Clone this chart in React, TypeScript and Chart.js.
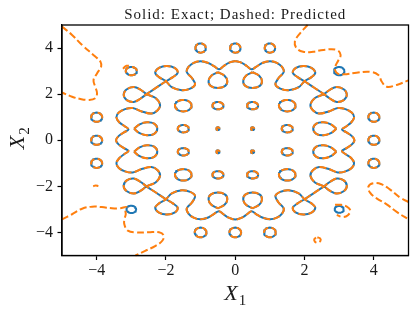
import React, { useEffect, useRef } from 'react';
import { Chart, registerables } from 'chart.js';

Chart.register(...registerables);

const BLUE = '#1f77b4';
const ORANGE = '#ff7f0e';

const xTicks = [-4, -2, 0, 2, 4];
const yTicks = [-4, -2, 0, 2, 4];

// Wavy level-set ring (exact and predicted coincide), traced clockwise by quadrant
const ringNE: [number, number][] = [
  [0.0, 3.44], [0.19, 3.36], [0.35, 3.2], [0.47, 3.08], [0.6, 3.18], [0.78, 3.35], [1.0, 3.43], [1.2, 3.36],
  [1.35, 3.18], [1.4, 2.96], [1.25, 2.7], [1.16, 2.42], [1.3, 2.24], [1.54, 2.17], [1.83, 2.3], [2.0, 2.56],
  [2.2, 2.74], [2.31, 2.93], [2.2, 3.14], [1.97, 3.22], [1.74, 3.13], [1.66, 2.93], [1.8, 2.74], [2.0, 2.56],
  [2.27, 2.29], [2.56, 2.0], [2.74, 1.8], [2.93, 1.66], [3.13, 1.74], [3.22, 1.97], [3.14, 2.2], [2.93, 2.31],
  [2.74, 2.2], [2.56, 2.0], [2.3, 1.83], [2.17, 1.54], [2.24, 1.3], [2.42, 1.16], [2.7, 1.25], [2.96, 1.4],
  [3.18, 1.35], [3.36, 1.2], [3.43, 1.0], [3.35, 0.78], [3.2, 0.6], [3.08, 0.47], [3.2, 0.35], [3.36, 0.19], [3.44, 0.0],
];
const ringSE: [number, number][] = [
  [3.44, 0.0], [3.36, -0.19], [3.2, -0.35], [3.08, -0.47], [3.18, -0.6], [3.35, -0.78], [3.43, -1.0], [3.36, -1.2],
  [3.18, -1.35], [2.96, -1.4], [2.7, -1.25], [2.42, -1.16], [2.24, -1.3], [2.17, -1.54], [2.3, -1.83], [2.56, -2.0],
  [2.74, -2.2], [2.93, -2.31], [3.14, -2.2], [3.22, -1.97], [3.13, -1.74], [2.93, -1.66], [2.74, -1.8], [2.56, -2.0],
  [2.29, -2.27], [2.0, -2.56], [1.8, -2.74], [1.66, -2.93], [1.74, -3.13], [1.97, -3.22], [2.2, -3.14], [2.31, -2.93],
  [2.2, -2.74], [2.0, -2.56], [1.83, -2.3], [1.54, -2.17], [1.3, -2.24], [1.16, -2.42], [1.25, -2.7], [1.4, -2.96],
  [1.35, -3.18], [1.2, -3.36], [1.0, -3.43], [0.78, -3.35], [0.6, -3.2], [0.47, -3.08], [0.35, -3.2], [0.19, -3.36], [0.0, -3.44],
];
const ringSW: [number, number][] = [
  [0.0, -3.44], [-0.19, -3.36], [-0.35, -3.2], [-0.47, -3.08], [-0.6, -3.18], [-0.78, -3.35], [-1.0, -3.43], [-1.2, -3.36],
  [-1.35, -3.18], [-1.4, -2.96], [-1.25, -2.7], [-1.16, -2.42], [-1.3, -2.24], [-1.54, -2.17], [-1.83, -2.3], [-2.0, -2.56],
  [-2.2, -2.74], [-2.31, -2.93], [-2.2, -3.14], [-1.97, -3.22], [-1.74, -3.13], [-1.66, -2.93], [-1.8, -2.74], [-2.0, -2.56],
  [-2.27, -2.29], [-2.56, -2.0], [-2.74, -1.8], [-2.93, -1.66], [-3.13, -1.74], [-3.22, -1.97], [-3.14, -2.2], [-2.93, -2.31],
  [-2.74, -2.2], [-2.56, -2.0], [-2.3, -1.83], [-2.17, -1.54], [-2.24, -1.3], [-2.42, -1.16], [-2.7, -1.25], [-2.96, -1.4],
  [-3.18, -1.35], [-3.36, -1.2], [-3.43, -1.0], [-3.35, -0.78], [-3.2, -0.6], [-3.08, -0.47], [-3.2, -0.35], [-3.36, -0.19], [-3.44, 0.0],
];
const ringNW: [number, number][] = [
  [-3.44, 0.0], [-3.36, 0.19], [-3.2, 0.35], [-3.08, 0.47], [-3.18, 0.6], [-3.35, 0.78], [-3.43, 1.0], [-3.36, 1.2],
  [-3.18, 1.35], [-2.96, 1.4], [-2.7, 1.25], [-2.42, 1.16], [-2.24, 1.3], [-2.17, 1.54], [-2.3, 1.83], [-2.56, 2.0],
  [-2.74, 2.2], [-2.93, 2.31], [-3.14, 2.2], [-3.22, 1.97], [-3.13, 1.74], [-2.93, 1.66], [-2.74, 1.8], [-2.56, 2.0],
  [-2.29, 2.27], [-2.0, 2.56], [-1.8, 2.74], [-1.66, 2.93], [-1.74, 3.13], [-1.97, 3.22], [-2.2, 3.14], [-2.31, 2.93],
  [-2.2, 2.74], [-2.0, 2.56], [-1.83, 2.3], [-1.54, 2.17], [-1.3, 2.24], [-1.16, 2.42], [-1.25, 2.7], [-1.4, 2.96],
  [-1.35, 3.18], [-1.2, 3.36], [-1.0, 3.43], [-0.78, 3.35], [-0.6, 3.2], [-0.47, 3.08], [-0.35, 3.2], [-0.19, 3.36], [0.0, 3.44],
];

// Teardrop-shaped islands next to the ring (traced from the tip round and back)
const dropE1: [number, number][] = [[2.92, 0.5], [2.76, 0.69], [2.55, 0.78], [2.34, 0.72], [2.25, 0.5], [2.34, 0.28], [2.55, 0.22], [2.76, 0.31], [2.92, 0.5]];
const dropE2: [number, number][] = [[2.92, -0.5], [2.76, -0.31], [2.55, -0.22], [2.34, -0.28], [2.25, -0.5], [2.34, -0.72], [2.55, -0.78], [2.76, -0.69], [2.92, -0.5]];
const dropW1: [number, number][] = [[-2.92, 0.5], [-2.76, 0.69], [-2.55, 0.78], [-2.34, 0.72], [-2.25, 0.5], [-2.34, 0.28], [-2.55, 0.22], [-2.76, 0.31], [-2.92, 0.5]];
const dropW2: [number, number][] = [[-2.92, -0.5], [-2.76, -0.31], [-2.55, -0.22], [-2.34, -0.28], [-2.25, -0.5], [-2.34, -0.72], [-2.55, -0.78], [-2.76, -0.69], [-2.92, -0.5]];
const dropN1: [number, number][] = [[0.5, 2.95], [0.69, 2.8], [0.77, 2.57], [0.71, 2.36], [0.5, 2.27], [0.29, 2.36], [0.23, 2.57], [0.31, 2.8], [0.5, 2.95]];
const dropN2: [number, number][] = [[-0.5, 2.95], [-0.31, 2.8], [-0.23, 2.57], [-0.29, 2.36], [-0.5, 2.27], [-0.71, 2.36], [-0.77, 2.57], [-0.69, 2.8], [-0.5, 2.95]];
const dropS1: [number, number][] = [[0.5, -2.95], [0.69, -2.8], [0.77, -2.57], [0.71, -2.36], [0.5, -2.27], [0.29, -2.36], [0.23, -2.57], [0.31, -2.8], [0.5, -2.95]];
const dropS2: [number, number][] = [[-0.5, -2.95], [-0.31, -2.8], [-0.23, -2.57], [-0.29, -2.36], [-0.5, -2.27], [-0.71, -2.36], [-0.77, -2.57], [-0.69, -2.8], [-0.5, -2.95]];

// Closed contour islands: centre, half-width, half-height, and whether the prediction also draws it
const islandX = [-0.5, 0.5, -0.5, 0.5, -1.5, 1.5, -1.5, 1.5, -0.5, 0.5, -0.5, 0.5, -1.5, 1.5, -1.5, 1.5,
  -1, 0, 1, -1, 0, 1, -4, -4, -4, 4, 4, 4, -3, 3, -3, 3];
const islandY = [0.5, 0.5, -0.5, -0.5, 0.5, 0.5, -0.5, -0.5, 1.5, 1.5, -1.5, -1.5, 1.5, 1.5, -1.5, -1.5,
  4, 4, 4, -4, -4, -4, 1, 0, -1, 1, 0, -1, 3, 3, -3, -3];
const islandRx = [0.045, 0.045, 0.045, 0.045, 0.16, 0.16, 0.16, 0.16, 0.16, 0.16, 0.16, 0.16, 0.24, 0.24, 0.24, 0.24,
  0.15, 0.15, 0.15, 0.17, 0.17, 0.17, 0.16, 0.16, 0.16, 0.16, 0.16, 0.16, 0.16, 0.15, 0.14, 0.13];
const islandRy = [0.06, 0.06, 0.06, 0.06, 0.16, 0.16, 0.16, 0.16, 0.16, 0.16, 0.16, 0.16, 0.25, 0.25, 0.25, 0.25,
  0.2, 0.2, 0.2, 0.21, 0.21, 0.21, 0.2, 0.2, 0.2, 0.2, 0.2, 0.2, 0.18, 0.18, 0.16, 0.15];
const islandPredicted = [true, true, true, true, true, true, true, true, true, true, true, true, true, true, true, true,
  true, true, true, true, true, true, true, true, true, true, true, true, true, false, false, false];

// Predicted-only (dashed) contour pieces
const predTopLeft: [number, number][] = [
  [-5, 4.93], [-4.71, 4.57], [-4.42, 4.13], [-4.04, 3.63], [-3.89, 3.41], [-3.87, 3.19], [-3.99, 2.9], [-4.09, 2.61],
  [-4.04, 2.32], [-3.99, 2.04], [-4.04, 1.82], [-4.23, 1.75], [-4.47, 1.79], [-4.71, 1.89], [-5, 2.07],
];
const predTopRight: [number, number][] = [
  [2.09, 5.0], [1.87, 4.64], [1.72, 4.28], [1.77, 3.99], [1.96, 3.84], [2.25, 3.84], [2.54, 3.92], [2.93, 3.92],
  [3.04, 3.7], [2.97, 3.45], [2.9, 3.25], [2.88, 3.05], [2.97, 2.88], [3.13, 2.86], [3.5, 2.93], [3.89, 2.97],
  [4.13, 2.83], [4.23, 2.54], [4.37, 2.32], [4.66, 2.4], [5.0, 2.6],
];
const predBottomLeft: [number, number][] = [
  [-5, -3.43], [-4.71, -3.21], [-4.42, -2.97], [-4.13, -2.88], [-3.85, -2.9], [-3.56, -2.95], [-3.32, -2.95],
  [-3.14, -2.9], [-3.17, -3.05], [-3.16, -3.22], [-3.2, -3.42], [-3.2, -3.65], [-3.1, -3.92], [-2.85, -4.0],
  [-2.5, -3.99], [-2.2, -3.99], [-2.07, -4.12], [-2.1, -4.35], [-2.3, -4.58], [-2.6, -4.8], [-2.88, -5.0],
];
const predBottomRight: [number, number][] = [
  [5.0, -2.68], [4.76, -2.49], [4.46, -2.13], [4.22, -1.91], [3.98, -1.87], [3.84, -2.02], [3.89, -2.27],
  [4.08, -2.52], [4.37, -2.78], [4.66, -3.11], [5.0, -3.43],
];
const predArcSE: [number, number][] = [
  [2.88, -2.8], [3.05, -2.8], [3.22, -2.88], [3.32, -3.05], [3.25, -3.25], [3.1, -3.33], [2.93, -3.24],
];
const predArcNW: [number, number][] = [[-3.24, 3.1], [-3.14, 3.23], [-2.98, 3.2]];
const predSpeck: [number, number][] = [[-4.1, -2.0], [-4.03, -1.96], [-3.95, -1.99]];
const predSpeckLoop: [number, number][] = [
  [2.37, -4.21], [2.45, -4.26], [2.46, -4.36], [2.38, -4.45], [2.3, -4.4], [2.28, -4.3], [2.33, -4.22],
];

const toPts = (arr: [number, number][]) => arr.map(([x, y]) => ({ x, y }));

function ellipsePts(cx: number, cy: number, rx: number, ry: number) {
  const pts: { x: number; y: number }[] = [];
  const n = 36;
  for (let i = 0; i <= n; i++) {
    const t = (i / n) * Math.PI * 2;
    pts.push({ x: cx + rx * Math.cos(t), y: cy + ry * Math.sin(t) });
  }
  return pts;
}

const SERIF = '"Liberation Serif", "DejaVu Serif", serif';

const decor = {
  id: 'decor',
  afterDraw(chart: any) {
    const { ctx, chartArea: a } = chart;
    ctx.save();
    ctx.strokeStyle = '#000';
    ctx.lineWidth = 1.3;
    ctx.setLineDash([]);
    ctx.strokeRect(a.left, a.top, a.right - a.left, a.bottom - a.top);
    ctx.fillStyle = '#1a1a1a';
    const cx = (a.left + a.right) / 2;
    // title
    ctx.font = `15px ${SERIF}`;
    ctx.textAlign = 'center';
    ctx.textBaseline = 'alphabetic';
    try { (ctx as any).letterSpacing = '1px'; } catch (e) { /* ignore */ }
    ctx.fillText('Solid: Exact; Dashed: Predicted', cx, 18.5);
    try { (ctx as any).letterSpacing = '0px'; } catch (e) { /* ignore */ }
    // x label
    ctx.font = `italic 22px ${SERIF}`;
    const wX = ctx.measureText('X').width;
    ctx.font = `15px ${SERIF}`;
    const w1 = ctx.measureText('1').width;
    const start = cx - (wX + w1 + 1) / 2;
    ctx.textAlign = 'left';
    ctx.font = `italic 22px ${SERIF}`;
    ctx.fillText('X', start, 300);
    ctx.font = `15px ${SERIF}`;
    ctx.fillText('1', start + wX + 1, 305);
    // y label
    ctx.translate(23.5, (a.top + a.bottom) / 2);
    ctx.rotate(-Math.PI / 2);
    ctx.font = `italic 22px ${SERIF}`;
    const wY = ctx.measureText('X').width;
    ctx.font = `15px ${SERIF}`;
    const w2 = ctx.measureText('2').width;
    const s2 = -(wY + w2 + 1) / 2 + 2;
    ctx.font = `italic 22px ${SERIF}`;
    ctx.fillText('X', s2, 0);
    ctx.font = `15px ${SERIF}`;
    ctx.fillText('2', s2 + wY + 1, 5);
    ctx.restore();
  },
};

const fmt = (v: number) => (v < 0 ? '\u2212' + Math.abs(v) : String(v));

export default function App() {
  const ref = useRef<HTMLCanvasElement | null>(null);
  useEffect(() => {
    if (!ref.current) return;
    const ring = [...ringNE, ...ringSE.slice(1), ...ringSW.slice(1), ...ringNW.slice(1)];
    const drops = [dropE1, dropE2, dropW1, dropW2, dropN1, dropN2, dropS1, dropS2];
    const dash = [7, 3.2];
    const base = {
      showLine: true, pointRadius: 0, borderWidth: 2, fill: false, clip: 2,
      borderJoinStyle: 'round', borderCapStyle: 'butt',
    } as any;
    const exact: any[] = [];
    const pred: any[] = [];
    exact.push({ ...base, data: toPts(ring), borderColor: BLUE, tension: 0.35 });
    pred.push({ ...base, data: toPts(ring), borderColor: ORANGE, borderDash: dash, tension: 0.35 });
    for (const d of drops) {
      exact.push({ ...base, data: toPts(d), borderColor: BLUE, tension: 0.4 });
      pred.push({ ...base, data: toPts(d), borderColor: ORANGE, borderDash: dash, tension: 0.4 });
    }
    for (let i = 0; i < islandX.length; i++) {
      const pts = ellipsePts(islandX[i], islandY[i], islandRx[i], islandRy[i]);
      exact.push({ ...base, data: pts, borderColor: BLUE, tension: 0 });
      if (islandPredicted[i]) pred.push({ ...base, data: pts, borderColor: ORANGE, borderDash: dash, tension: 0 });
    }
    for (const c of [predTopLeft, predTopRight, predBottomLeft, predBottomRight, predArcSE, predArcNW, predSpeck, predSpeckLoop]) {
      pred.push({ ...base, data: toPts(c), borderColor: ORANGE, borderDash: dash, tension: 0.4 });
    }
    const chart = new Chart(ref.current, {
      type: 'scatter',
      data: { datasets: [...pred, ...exact] },
      options: {
        animation: false,
        responsive: false,
        events: [],
        layout: { padding: { left: 0, right: 6.5, top: 25, bottom: 0 } },
        plugins: { legend: { display: false }, tooltip: { enabled: false }, title: { display: false } },
        scales: {
          x: {
            type: 'linear', min: -5, max: 5,
            afterBuildTicks: (s: any) => { s.ticks = xTicks.map((v) => ({ value: v })); },
            afterFit: (s: any) => { s.height = 56.5; },
            grid: { drawOnChartArea: false, drawTicks: true, tickLength: 4.5, color: '#000', tickWidth: 1.2 },
            border: { display: true, color: '#000', width: 1.3 },
            ticks: { color: '#1a1a1a', font: { family: SERIF, size: 16 }, padding: 1, maxRotation: 0, callback: (v: any) => fmt(Number(v)) },
          },
          y: {
            type: 'linear', min: -5, max: 5,
            afterBuildTicks: (s: any) => { s.ticks = yTicks.map((v) => ({ value: v })); },
            afterFit: (s: any) => { s.width = 62; },
            grid: { drawOnChartArea: false, drawTicks: true, tickLength: 4.5, color: '#000', tickWidth: 1.2 },
            border: { display: true, color: '#000', width: 1.3 },
            ticks: { color: '#1a1a1a', font: { family: SERIF, size: 16 }, padding: 4.5, callback: (v: any) => fmt(Number(v)) },
          },
        },
      } as any,
      plugins: [decor],
    });
    return () => chart.destroy();
  }, []);
  return (
    <div style={{ position: 'fixed', left: 0, top: 0, width: 415, height: 312, background: '#fff' }}>
      <canvas ref={ref} width={415} height={312} style={{ width: 415, height: 312, display: 'block' }} />
    </div>
  );
}
